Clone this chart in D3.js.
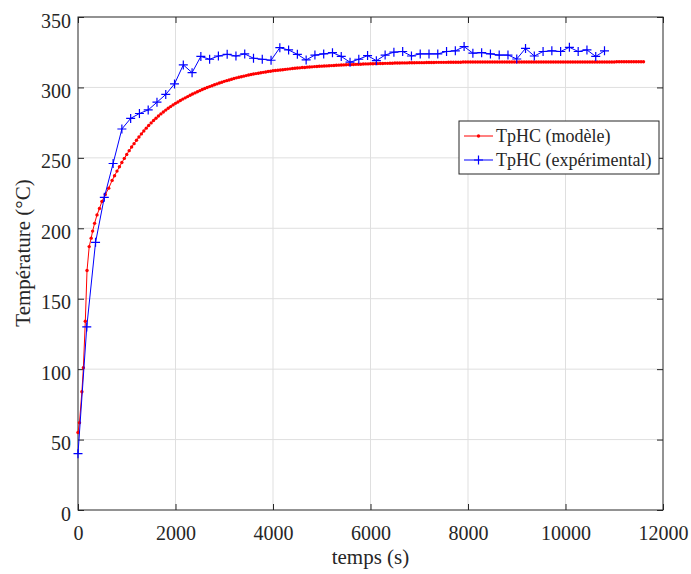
<!DOCTYPE html>
<meta charset="utf-8">
<style>

body {
  margin: 0;
  background: #fff;
}

svg text {
  font-family: "Liberation Serif", "Times New Roman", serif;
  fill: #262626;
}

.grid line {
  stroke: #dfdfdf;
  stroke-width: 1;
}

.axis line {
  stroke: #262626;
}

.axis text {
  font-size: 20px;
}

</style>
<body>
  <script src="https://d3js.org/d3.v7.min.js"></script>
  <script>

    // model curve (red), early points then a 50 s grid
    var modelTimeEarly = [0, 30, 80, 110, 150, 185, 230, 270, 300, 340, 390, 440, 490, 560, 630];
    var modelTempEarly = [55, 62, 84, 101, 134, 170, 187, 193, 198, 203.5, 209.5, 214, 219, 224, 228.5];
    var modelTimeGrid = d3.range(700, 11650, 50);
    var modelTempGrid = [
      234, 237.3, 240.6, 243.7, 246.7, 249.6,
      252.4, 255.1, 257.7, 260.1, 262.5, 264.8, 267.0, 269.1, 271.1, 273.0,
      274.8, 276.5, 278.1, 279.7, 281.2, 282.6, 283.9, 285.2, 286.4, 287.6,
      288.7, 289.7, 290.7, 291.7, 292.6, 293.5, 294.4, 295.3, 296.1, 296.9,
      297.7, 298.5, 299.2, 299.9, 300.6, 301.2, 301.9, 302.5, 303.1, 303.7,
      304.3, 304.8, 305.3, 305.8, 306.3, 306.8, 307.2, 307.6, 308.0, 308.4,
      308.8, 309.2, 309.5, 309.8, 310.1, 310.4, 310.7, 311.0, 311.3, 311.5,
      311.8, 312.0, 312.2, 312.4, 312.6, 312.8, 313.0, 313.2, 313.4, 313.6,
      313.8, 313.9, 314.1, 314.2, 314.4, 314.5, 314.6, 314.8, 314.9, 315.0,
      315.1, 315.2, 315.3, 315.4, 315.5, 315.6, 315.7, 315.8, 315.9, 316.0,
      316.1, 316.2, 316.2, 316.3, 316.4, 316.5, 316.5, 316.6, 316.7, 316.7,
      316.8,
      316.8, 316.9, 316.9, 317.0, 317.0, 317.1, 317.1, 317.2, 317.2, 317.3,
      317.3, 317.3, 317.4, 317.4, 317.4, 317.5, 317.5, 317.5, 317.6, 317.6,
      317.6, 317.6, 317.7, 317.7, 317.7, 317.7, 317.8, 317.8, 317.8, 317.8,
      317.8, 317.9, 317.9, 317.9, 317.9, 317.9, 317.9, 318.0, 318.0, 318.0,
      318.0, 318.0, 318.0, 318.0, 318.0, 318.0, 318.0, 318.0, 318.0, 318.0,
      318.0, 318.0, 318.0, 318.0, 318.0, 318.0, 318.0, 318.0, 318.0, 318.0,
      318.1, 318.1, 318.1, 318.1, 318.1, 318.1, 318.1, 318.1, 318.1, 318.1,
      318.1, 318.1, 318.1, 318.1, 318.1, 318.1, 318.1, 318.1, 318.1, 318.1,
      318.1, 318.1, 318.1, 318.1, 318.1, 318.1, 318.1, 318.1, 318.1, 318.1,
      318.1, 318.1, 318.1, 318.1, 318.1, 318.1, 318.1, 318.1, 318.1, 318.1,
      318.2, 318.2, 318.2, 318.2, 318.2, 318.2, 318.2, 318.2, 318.2, 318.2,
      318.2, 318.2
    ];

    // measurements (blue), one every 180 s
    var expTime = d3.range(0, 10801, 180);
    var expTemp = [
      40, 130, 190, 222, 246, 270.5, 278, 281.5, 284, 289.5,
      295, 302.5, 316, 310.5, 322, 320, 322.3, 323.5, 322.3, 323.8,
      320.7, 320, 319.3, 328.2, 326.6, 323.5, 319.5, 323, 323.8, 324.7,
      322, 317.9, 320, 322.6, 319, 323, 325, 325.5, 322.3, 323.8,
      323.8, 323.8, 325.5, 326, 329, 324.3, 324.7, 323.8, 323, 323,
      320.2, 327.7, 322.3, 325.5, 326, 325.5, 328.5, 325.5, 326.6, 322,
      326
    ];

    var seriesNames = ["TpHC (modèle)", "TpHC (expérimental)"];
    var xTicks = d3.range(0, 12001, 2000);
    var yTicks = d3.range(0, 351, 50);

    var modelData = modelTimeEarly.concat(modelTimeGrid).map(function (t, i) {
      return {t: t, v: modelTempEarly.concat(modelTempGrid)[i]};
    });
    var expData = expTime.map(function (t, i) {
      return {t: t, v: expTemp[i]};
    });

    var margin = {top: 17, right: 28, bottom: 64, left: 78},
    width = 691 - margin.left - margin.right,
    height = 574 - margin.top - margin.bottom;

    var svg = d3.select("body").append("svg")
    .attr("width", 691)
    .attr("height", 574)
    .append("g")
    .attr("transform", "translate(" + margin.left + "," + margin.top + ")");

    var x = d3.scaleLinear().domain([0, 12000]).range([0, width]);
    var y = d3.scaleLinear().domain([0, 350]).range([height, 0]);

    // grid
    var grid = svg.append("g").attr("class", "grid");
    grid.selectAll(".gx").data(xTicks.slice(1, -1)).enter().append("line")
    .attr("x1", function (d) { return x(d); })
    .attr("x2", function (d) { return x(d); })
    .attr("y1", 0).attr("y2", height);
    grid.selectAll(".gy").data(yTicks.slice(1, -1)).enter().append("line")
    .attr("y1", function (d) { return y(d); })
    .attr("y2", function (d) { return y(d); })
    .attr("x1", 0).attr("x2", width);

    // axes, ticks pointing inward
    var xAxis = svg.append("g").attr("class", "axis")
    .attr("transform", "translate(0," + height + ")")
    .call(d3.axisBottom(x).tickValues(xTicks).tickFormat(d3.format("d"))
      .tickSizeInner(-6).tickSizeOuter(0).tickPadding(16));
    var yAxis = svg.append("g").attr("class", "axis")
    .call(d3.axisLeft(y).tickValues(yTicks).tickFormat(d3.format("d"))
      .tickSizeInner(-6).tickSizeOuter(0).tickPadding(7));
    yAxis.selectAll("text").attr("dy", "0.5em");

    svg.append("g").attr("class", "axis")
    .call(d3.axisTop(x).tickValues(xTicks).tickSizeInner(-6).tickSizeOuter(0).tickFormat(""));
    svg.append("g").attr("class", "axis")
    .attr("transform", "translate(" + width + ",0)")
    .call(d3.axisRight(y).tickValues(yTicks).tickSizeInner(-6).tickSizeOuter(0).tickFormat(""));

    svg.selectAll(".axis .domain").remove();
    svg.selectAll(".axis text").attr("fill", "#262626");

    svg.append("rect")
    .attr("width", width).attr("height", height)
    .attr("fill", "none").attr("stroke", "#262626").attr("stroke-width", 1);

    var line = d3.line()
    .x(function (d) { return x(d.t); })
    .y(function (d) { return y(d.v); });

    // model
    svg.append("path").datum(modelData)
    .attr("fill", "none").attr("stroke", "#ff0000").attr("stroke-width", 1)
    .attr("d", line);
    svg.selectAll(".dot").data(modelData).enter().append("circle")
    .attr("class", "dot")
    .attr("cx", function (d) { return x(d.t); })
    .attr("cy", function (d) { return y(d.v); })
    .attr("r", 1.7)
    .attr("fill", "#ff0000");

    // experimental
    svg.append("path").datum(expData)
    .attr("fill", "none").attr("stroke", "#0000ff").attr("stroke-width", 1)
    .attr("d", line);
    svg.selectAll(".plus").data(expData).enter().append("path")
    .attr("class", "plus")
    .attr("transform", function (d) { return "translate(" + x(d.t) + "," + y(d.v) + ")"; })
    .attr("d", "M-4.5,0H4.5M0,-4.5V4.5")
    .attr("stroke", "#0000ff").attr("stroke-width", 1.2);

    // axis labels
    svg.append("text")
    .attr("x", width / 2)
    .attr("y", height + 54)
    .attr("text-anchor", "middle")
    .style("font-size", "21px")
    .text("temps (s)");

    svg.append("text")
    .attr("transform", "translate(" + (-48) + "," + (236) + ")rotate(-90)")
    .attr("text-anchor", "middle")
    .style("font-size", "21px")
    .text("Température (°C)");

    // legend
    var legend = svg.append("g")
    .attr("transform", "translate(" + (459 - margin.left) + "," + (121 - margin.top) + ")");
    legend.append("rect")
    .attr("width", 200).attr("height", 53)
    .attr("fill", "#fff").attr("stroke", "#262626").attr("stroke-width", 1);

    var entries = legend.selectAll(".entry").data(seriesNames).enter().append("g")
    .attr("transform", function (d, i) { return "translate(0," + (15 + i * 24) + ")"; });
    entries.append("line")
    .attr("x1", 5).attr("x2", 34)
    .attr("stroke", function (d, i) { return i ? "#0000ff" : "#ff0000"; });
    entries.filter(function (d, i) { return i === 0; }).append("circle")
    .attr("cx", 19.5).attr("r", 1.7).attr("fill", "#ff0000");
    entries.filter(function (d, i) { return i === 1; }).append("path")
    .attr("transform", "translate(19.5,0)")
    .attr("d", "M-4.5,0H4.5M0,-4.5V4.5")
    .attr("stroke", "#0000ff").attr("stroke-width", 1.2);
    entries.append("text")
    .attr("x", 37)
    .attr("dy", "0.33em")
    .style("font-size", "18px")
    .text(function (d) { return d; });

  </script>
</body>
